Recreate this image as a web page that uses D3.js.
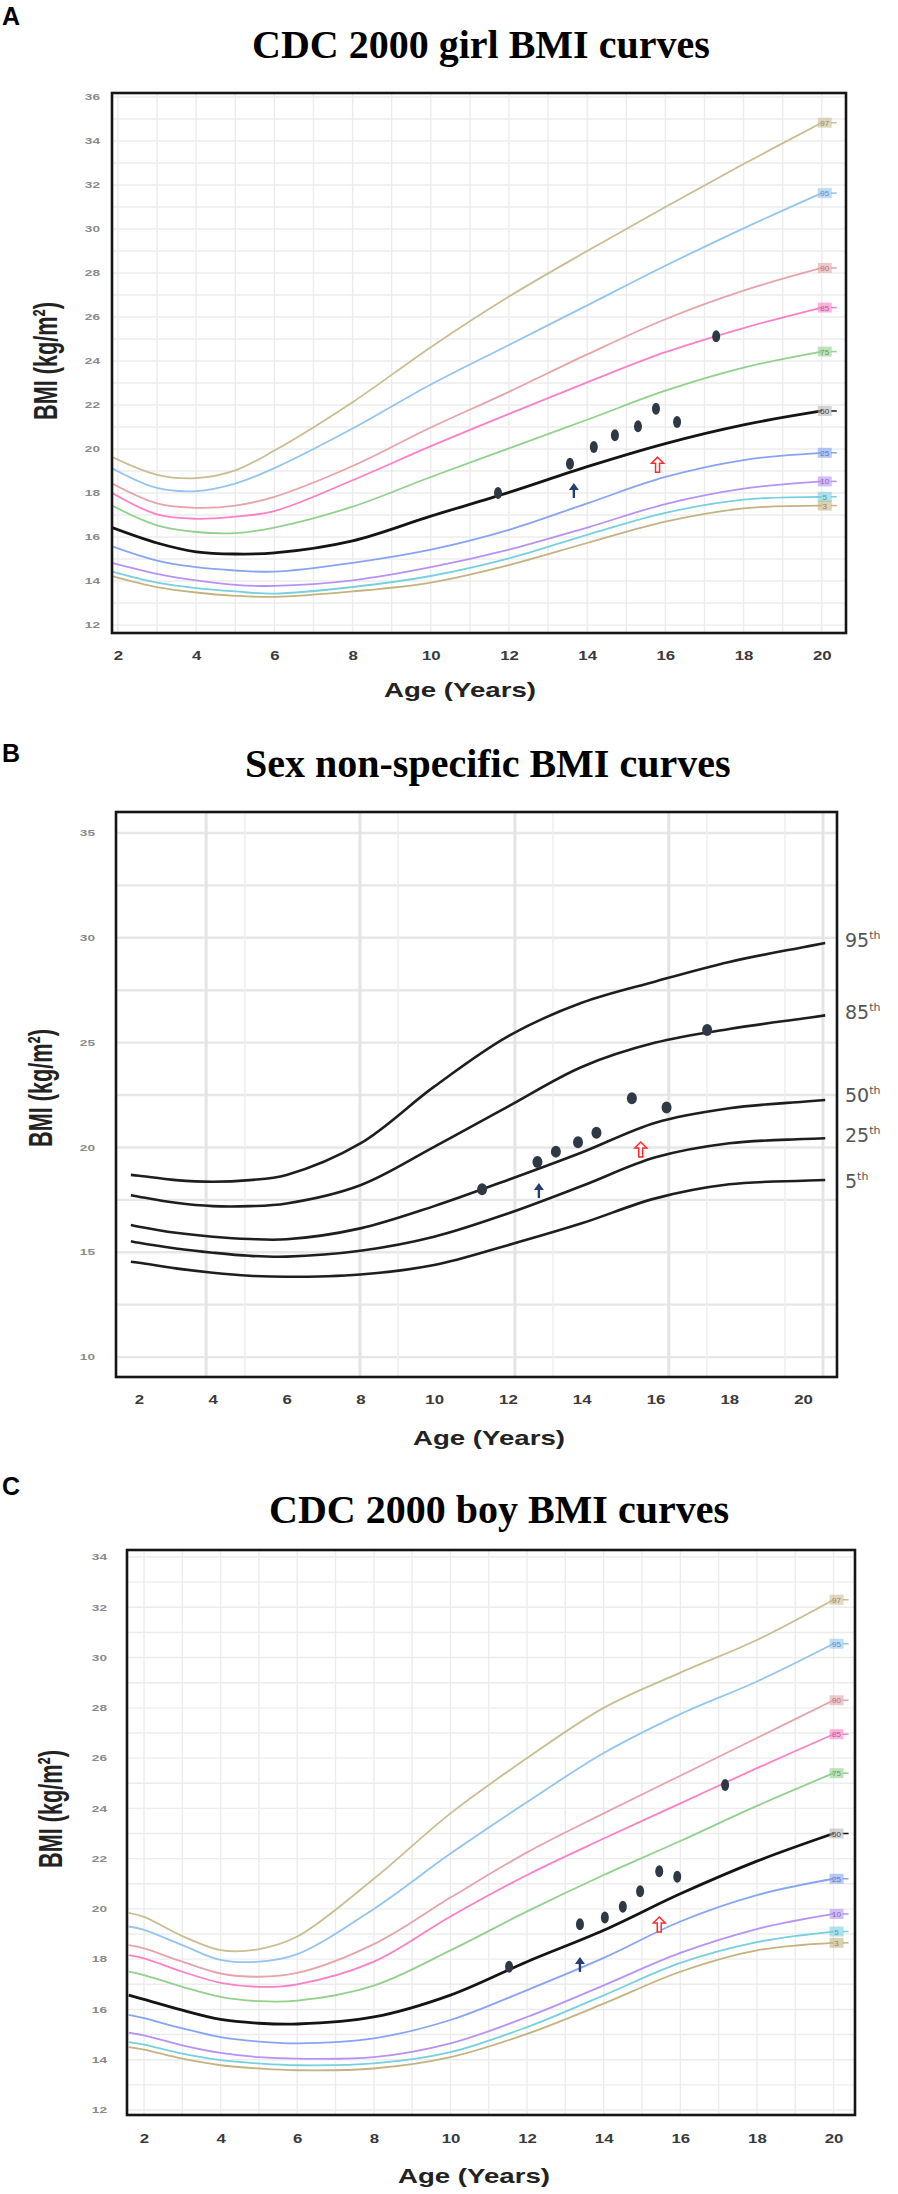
<!DOCTYPE html>
<html>
<head>
<meta charset="utf-8">
<title>BMI curves</title>
<script src="https://cdn.jsdelivr.net/npm/d3@7/dist/d3.min.js"></script>
<style>
  body { margin: 0; background: #fff; }
</style>
</head>
<body>
<div id="chart"></div>
<script>
// ---- values ----
var percentiles = ["97", "95", "90", "85", "75", "50", "25", "10", "5", "3"];
var xTickValues = [2, 4, 6, 8, 10, 12, 14, 16, 18, 20];

// A: CDC 2000 girls
var girlAges = [1.85, 3, 4, 5, 6, 8, 10, 12, 14, 16, 18, 20];
var girl97 = [19.63, 18.83, 18.68, 19.03, 19.93, 22.13, 24.63, 26.93, 29.0, 31.0, 32.95, 34.83];
var girl95 = [19.13, 18.23, 18.09, 18.43, 19.13, 20.93, 22.93, 24.73, 26.53, 28.33, 30.03, 31.63];
var girl90 = [18.43, 17.53, 17.33, 17.43, 17.83, 19.23, 20.98, 22.6, 24.3, 25.9, 27.2, 28.23];
var girl85 = [18.0, 17.03, 16.83, 16.93, 17.18, 18.58, 20.13, 21.6, 23.03, 24.4, 25.5, 26.43];
var girl75 = [17.43, 16.53, 16.23, 16.18, 16.43, 17.38, 18.73, 20.03, 21.33, 22.65, 23.7, 24.43];
var girl50 = [16.43, 15.73, 15.33, 15.23, 15.28, 15.83, 16.95, 18.03, 19.2, 20.25, 21.1, 21.73];
var girl25 = [15.58, 14.93, 14.63, 14.48, 14.43, 14.83, 15.43, 16.33, 17.53, 18.73, 19.5, 19.83];
var girl10 = [14.83, 14.33, 14.03, 13.83, 13.78, 14.03, 14.63, 15.43, 16.43, 17.5, 18.2, 18.53];
var girl5 = [14.43, 13.93, 13.68, 13.53, 13.43, 13.73, 14.23, 15.03, 16.1, 17.1, 17.7, 17.83];
var girl3 = [14.23, 13.73, 13.48, 13.33, 13.28, 13.53, 13.93, 14.73, 15.73, 16.7, 17.3, 17.43];
var girlYTicks = [12, 14, 16, 18, 20, 22, 24, 26, 28, 30, 32, 34, 36];
var girlVisitAge = [11.72, 13.56, 14.17, 14.71, 15.3, 15.76, 16.3, 17.3];
var girlVisitBmi = [18.0, 19.33, 20.09, 20.63, 21.03, 21.83, 21.23, 25.13];
var girlArrowAge = [13.66, 15.8];
var girlArrowBmi = [18.46, 19.63];

// B: sex non-specific
var mixLabels = ["95", "85", "50", "25", "5"];
var mixAges = [1.78, 2, 3, 4, 5, 6, 8, 10, 12, 14, 16, 18, 20, 20.6];
var mix95 = [18.69, 18.65, 18.44, 18.36, 18.44, 18.69, 20.19, 22.9, 25.3, 26.9, 27.92, 28.85, 29.55, 29.75];
var mix85 = [17.72, 17.65, 17.36, 17.2, 17.2, 17.33, 18.2, 20.03, 21.95, 23.84, 25.0, 25.65, 26.15, 26.3];
var mix50 = [16.3, 16.22, 15.93, 15.74, 15.63, 15.62, 16.14, 17.2, 18.45, 19.76, 21.18, 21.87, 22.18, 22.26];
var mix25 = [15.53, 15.45, 15.18, 14.98, 14.83, 14.79, 15.07, 15.74, 16.85, 18.16, 19.53, 20.2, 20.4, 20.44];
var mix5 = [14.55, 14.5, 14.23, 14.02, 13.88, 13.83, 13.94, 14.39, 15.34, 16.38, 17.57, 18.24, 18.41, 18.45];
var mixLabelBmi = [29.9, 26.46, 22.5, 20.6, 18.4];
var mixYTicks = [10, 15, 20, 25, 30, 35];
var mixGridBmi = [10, 12.5, 15, 17.5, 20, 22.5, 25, 27.5, 30, 32.5, 35];
var mixGridMajor = [3.82, 7.99, 12.19, 16.36, 20.54];
var mixGridMinor = [4.87, 9.02, 13.22, 17.39, 19.51];
var mixVisitAge = [11.3, 12.8, 13.3, 13.9, 14.4, 15.36, 16.3, 17.4];
var mixVisitBmi = [18.0, 19.3, 19.8, 20.25, 20.7, 22.35, 21.9, 25.6];
var mixArrowAge = [12.84, 15.6];
var mixArrowBmi = [18.3, 20.26];

// C: CDC 2000 boys
var boyAges = [1.6, 2, 3, 4, 5, 6, 8, 10, 12, 14, 16, 18, 20];
var boy97 = [19.84, 19.68, 18.92, 18.36, 18.4, 18.9, 21.2, 23.8, 26.0, 28.0, 29.4, 30.7, 32.3];
var boy95 = [19.3, 19.17, 18.56, 17.97, 17.9, 18.2, 20.0, 22.2, 24.25, 26.2, 27.75, 29.05, 30.55];
var boy90 = [18.56, 18.43, 17.9, 17.43, 17.3, 17.45, 18.6, 20.45, 22.25, 23.8, 25.3, 26.8, 28.3];
var boy85 = [18.16, 18.03, 17.5, 17.06, 16.9, 17.0, 17.9, 19.7, 21.35, 22.8, 24.2, 25.6, 26.95];
var boy75 = [17.5, 17.37, 16.9, 16.5, 16.33, 16.35, 16.95, 18.35, 19.9, 21.35, 22.7, 24.1, 25.4];
var boy50 = [16.57, 16.4, 15.97, 15.6, 15.45, 15.42, 15.7, 16.57, 17.9, 19.15, 20.6, 21.9, 23.0];
var boy25 = [15.78, 15.65, 15.25, 14.9, 14.72, 14.65, 14.85, 15.58, 16.77, 18.05, 19.5, 20.55, 21.2];
var boy10 = [15.08, 14.97, 14.57, 14.27, 14.1, 14.04, 14.1, 14.65, 15.7, 16.96, 18.25, 19.2, 19.8];
var boy5 = [14.7, 14.6, 14.24, 13.98, 13.85, 13.78, 13.85, 14.3, 15.3, 16.56, 17.85, 18.68, 19.1];
var boy3 = [14.5, 14.4, 14.04, 13.78, 13.65, 13.58, 13.65, 14.1, 15.03, 16.23, 17.5, 18.35, 18.65];
var boyYTicks = [12, 14, 16, 18, 20, 22, 24, 26, 28, 30, 32, 34];
var boyVisitAge = [11.53, 13.38, 14.03, 14.5, 14.95, 15.45, 15.92, 17.17];
var boyVisitBmi = [17.7, 19.39, 19.66, 20.09, 20.7, 21.5, 21.28, 24.93];
var boyArrowAge = [13.38, 15.45];
var boyArrowBmi = [18.09, 19.68];

// ---- styles ----
var pctColors = ["#c9bd92", "#93c5f0", "#e6a4aa", "#fb80c6", "#92d08e", "#141414", "#86a4f2", "#b792f5", "#76d0dd", "#c4b27f"];
var arrowColors = ["#233f6e", "#ff2b2b"];
var dotColor = "#2f3945";
var sansFont = "'Liberation Sans', Arial, sans-serif";

var layoutA = { letter: "A", title: "CDC 2000 girl BMI curves", letterY: 25, titleX: 252, titleY: 58,
  left: 112, right: 846, top: 93, bottom: 633, xDomain: [1.847, 20.62], yDomain: [11.64, 36.18],
  tickY: 660, yTickX: 100, xLabelX: 460, xLabelY: 697, yLabelX: 45, yLabelY: 361, dotR: [4, 6] };
var layoutB = { letter: "B", title: "Sex non-specific BMI curves", letterY: 762, titleX: 245, titleY: 777,
  left: 116, right: 837, top: 812, bottom: 1377, xDomain: [1.377, 20.92], yDomain: [9.05, 36.0],
  tickY: 1404, yTickX: 95, xLabelX: 489, xLabelY: 1445, yLabelX: 40, yLabelY: 1088, dotR: [5, 6] };
var layoutC = { letter: "C", title: "CDC 2000 boy BMI curves", letterY: 1495, titleX: 269, titleY: 1523,
  left: 127, right: 855, top: 1550, bottom: 2115, xDomain: [1.556, 20.56], yDomain: [11.8, 34.28],
  tickY: 2143, yTickX: 107, xLabelX: 474, xLabelY: 2183, yLabelX: 50, yLabelY: 1809, dotR: [4, 6] };

var svg = d3.select("#chart")
  .append("svg")
  .attr("width", 898)
  .attr("height", 2194)
  .style("font-family", sansFont);

// widen text a bit, the source figure is stretched sideways
function stretch(sel, k) {
  sel.each(function() {
    var w = this.getComputedTextLength();
    d3.select(this).attr("textLength", w * k).attr("lengthAdjust", "spacingAndGlyphs");
  });
}

function scalesFor(L) {
  return {
    x: d3.scaleLinear().domain(L.xDomain).range([L.left, L.right]),
    y: d3.scaleLinear().domain(L.yDomain).range([L.bottom, L.top])
  };
}

function curveLine(s) {
  return d3.line()
    .x(function(d) { return s.x(d[0]); })
    .y(function(d) { return s.y(d[1]); })
    .curve(d3.curveCatmullRom.alpha(0.5));
}

function drawHeader(L) {
  svg.append("text")
    .attr("x", 2).attr("y", L.letterY)
    .attr("font-size", 25).attr("font-weight", "bold")
    .text(L.letter);
  svg.append("text")
    .attr("x", L.titleX).attr("y", L.titleY)
    .attr("font-family", "'Liberation Serif', 'Times New Roman', serif")
    .attr("font-size", 40).attr("font-weight", "bold")
    .text(L.title);
}

function addClip(L, id) {
  svg.append("clipPath").attr("id", id)
    .append("rect")
    .attr("x", L.left).attr("y", L.top)
    .attr("width", L.right - L.left).attr("height", L.bottom - L.top);
  return svg.append("g").attr("clip-path", "url(#" + id + ")");
}

function drawAxes(L, s, yTicks) {
  var gx = svg.append("g")
    .attr("transform", "translate(0," + L.tickY + ")")
    .attr("font-family", sansFont)
    .call(d3.axisBottom(s.x).tickValues(xTickValues).tickSize(0).tickPadding(0));
  gx.select(".domain").remove();
  gx.selectAll("text")
    .attr("dy", null).attr("y", 0)
    .attr("font-size", 12).attr("font-weight", "bold").attr("fill", "#3a3a3a");
  stretch(gx.selectAll("text"), 1.4);

  var gy = svg.append("g")
    .attr("transform", "translate(" + (L.yTickX + 2) + ",0)")
    .attr("font-family", sansFont)
    .call(d3.axisLeft(s.y).tickValues(yTicks).tickSize(0).tickPadding(2).tickFormat(d3.format("d")));
  gy.select(".domain").remove();
  gy.selectAll("text")
    .attr("font-size", 8.5).attr("font-weight", "bold").attr("fill", "#8a8a8a");
  stretch(gy.selectAll("text"), 1.6);

  svg.append("text")
    .attr("x", L.xLabelX).attr("y", L.xLabelY)
    .attr("text-anchor", "middle")
    .attr("font-size", 21).attr("font-weight", "bold").attr("fill", "#222")
    .attr("textLength", 152).attr("lengthAdjust", "spacingAndGlyphs")
    .text("Age (Years)");

  svg.append("text")
    .attr("transform", "translate(" + L.yLabelX + "," + L.yLabelY + ") rotate(-90) scale(1,1.5)")
    .attr("text-anchor", "middle")
    .attr("dy", "0.35em")
    .attr("font-size", 22).attr("font-weight", "bold").attr("fill", "#222")
    .attr("textLength", 118).attr("lengthAdjust", "spacingAndGlyphs")
    .text("BMI (kg/m²)");
}

function drawFrame(L) {
  svg.append("rect")
    .attr("x", L.left).attr("y", L.top)
    .attr("width", L.right - L.left).attr("height", L.bottom - L.top)
    .attr("fill", "none").attr("stroke", "#151515").attr("stroke-width", 2.6);
}

function drawVisits(L, s, ages, bmis, arrowAges, arrowBmis) {
  svg.append("g").selectAll("ellipse")
    .data(d3.zip(ages, bmis))
    .join("ellipse")
    .attr("cx", function(d) { return s.x(d[0]); })
    .attr("cy", function(d) { return s.y(d[1]); })
    .attr("rx", L.dotR[0]).attr("ry", L.dotR[1])
    .attr("fill", dotColor);

  // first arrow solid blue, second hollow red
  d3.zip(arrowAges, arrowBmis).forEach(function(d, i) {
    var g = svg.append("g")
      .attr("transform", "translate(" + s.x(d[0]) + "," + s.y(d[1]) + ")");
    if (i === 0) {
      g.append("line").attr("x1", 0).attr("y1", 3).attr("x2", 0).attr("y2", 15)
        .attr("stroke", arrowColors[i]).attr("stroke-width", 2.4);
      g.append("path").attr("d", "M-5,7L0,0L5,7Z").attr("fill", arrowColors[i]);
    } else {
      g.append("path")
        .attr("d", "M0,0L6,6L2,6L2,15L-2,15L-2,6L-6,6Z")
        .attr("fill", "#fff").attr("stroke", arrowColors[i]).attr("stroke-width", 1.5);
    }
  });
}

function drawCdcPanel(L, ages, series, yTicks, visits) {
  var s = scalesFor(L);
  var id = "clip" + L.letter;
  drawHeader(L);

  var clip = addClip(L, id);
  var grid = clip.append("g").attr("stroke", "#ececec").attr("stroke-width", 1.4);
  grid.selectAll("line.v").data(d3.range(2, 21)).join("line").attr("class", "v")
    .attr("x1", function(d) { return s.x(d); }).attr("x2", function(d) { return s.x(d); })
    .attr("y1", L.top).attr("y2", L.bottom);
  grid.selectAll("line.h").data(d3.range(12, 37)).join("line").attr("class", "h")
    .attr("y1", function(d) { return s.y(d); }).attr("y2", function(d) { return s.y(d); })
    .attr("x1", L.left).attr("x2", L.right);

  var line = curveLine(s);
  clip.append("g").selectAll("path")
    .data(series)
    .join("path")
    .attr("d", function(v) { return line(d3.zip(ages, v)); })
    .attr("fill", "none")
    .attr("stroke", function(v, i) { return pctColors[i]; })
    .attr("stroke-width", function(v, i) { return percentiles[i] === "50" ? 2.8 : 1.8; });

  // small coloured tags at the end of each curve
  var xEnd = s.x(ages[ages.length - 1]) + 3;
  var tags = svg.append("g").selectAll("g")
    .data(series)
    .join("g")
    .attr("transform", function(v) { return "translate(" + xEnd + "," + s.y(v[v.length - 1]) + ")"; });
  tags.append("line")
    .attr("x1", 6).attr("x2", 12).attr("y1", 0).attr("y2", 0)
    .attr("stroke", function(v, i) { return pctColors[i]; }).attr("stroke-width", 1.5);
  tags.append("rect")
    .attr("x", -7).attr("y", -5).attr("width", 14).attr("height", 10)
    .attr("fill", function(v, i) { return percentiles[i] === "50" ? "#b8b8b8" : pctColors[i]; })
    .attr("fill-opacity", 0.6);
  tags.append("text")
    .attr("text-anchor", "middle").attr("y", 3)
    .attr("font-size", 8)
    .attr("fill", function(v, i) { return percentiles[i] === "50" ? "#444" : d3.color(pctColors[i]).darker(0.9); })
    .text(function(v, i) { return percentiles[i]; });

  drawFrame(L);
  drawAxes(L, s, yTicks);
  drawVisits(L, s, visits[0], visits[1], visits[2], visits[3]);
}

function drawMixPanel(L) {
  var s = scalesFor(L);
  drawHeader(L);

  var clip = addClip(L, "clipB");
  clip.append("g").selectAll("line")
    .data(mixGridBmi).join("line")
    .attr("y1", function(d) { return s.y(d); }).attr("y2", function(d) { return s.y(d); })
    .attr("x1", L.left).attr("x2", L.right)
    .attr("stroke", "#e7e7e7").attr("stroke-width", 2.4);
  clip.append("g").selectAll("line")
    .data(mixGridMajor).join("line")
    .attr("x1", function(d) { return s.x(d); }).attr("x2", function(d) { return s.x(d); })
    .attr("y1", L.top).attr("y2", L.bottom)
    .attr("stroke", "#e4e4e4").attr("stroke-width", 3);
  clip.append("g").selectAll("line")
    .data(mixGridMinor).join("line")
    .attr("x1", function(d) { return s.x(d); }).attr("x2", function(d) { return s.x(d); })
    .attr("y1", L.top).attr("y2", L.bottom)
    .attr("stroke", "#efefef").attr("stroke-width", 1.6);

  var line = curveLine(s);
  clip.append("g").selectAll("path")
    .data([mix95, mix85, mix50, mix25, mix5])
    .join("path")
    .attr("d", function(v) { return line(d3.zip(mixAges, v)); })
    .attr("fill", "none").attr("stroke", "#1e1e1e").attr("stroke-width", 2.6);

  var labels = svg.append("g").selectAll("text")
    .data(d3.zip(mixLabels, mixLabelBmi))
    .join("text")
    .attr("x", L.right + 8)
    .attr("y", function(d) { return s.y(d[1]); })
    .attr("dy", "0.36em")
    .attr("font-family", "'DejaVu Sans', sans-serif")
    .attr("font-size", 19).attr("fill", "#555");
  labels.append("tspan").text(function(d) { return d[0]; });
  labels.append("tspan").attr("font-size", 11).attr("dy", -8).text("th");

  drawFrame(L);
  drawAxes(L, s, mixYTicks);
  drawVisits(L, s, mixVisitAge, mixVisitBmi, mixArrowAge, mixArrowBmi);
}

drawCdcPanel(layoutA, girlAges,
  [girl97, girl95, girl90, girl85, girl75, girl50, girl25, girl10, girl5, girl3],
  girlYTicks, [girlVisitAge, girlVisitBmi, girlArrowAge, girlArrowBmi]);
drawMixPanel(layoutB);
drawCdcPanel(layoutC, boyAges,
  [boy97, boy95, boy90, boy85, boy75, boy50, boy25, boy10, boy5, boy3],
  boyYTicks, [boyVisitAge, boyVisitBmi, boyArrowAge, boyArrowBmi]);
</script>
</body>
</html>
